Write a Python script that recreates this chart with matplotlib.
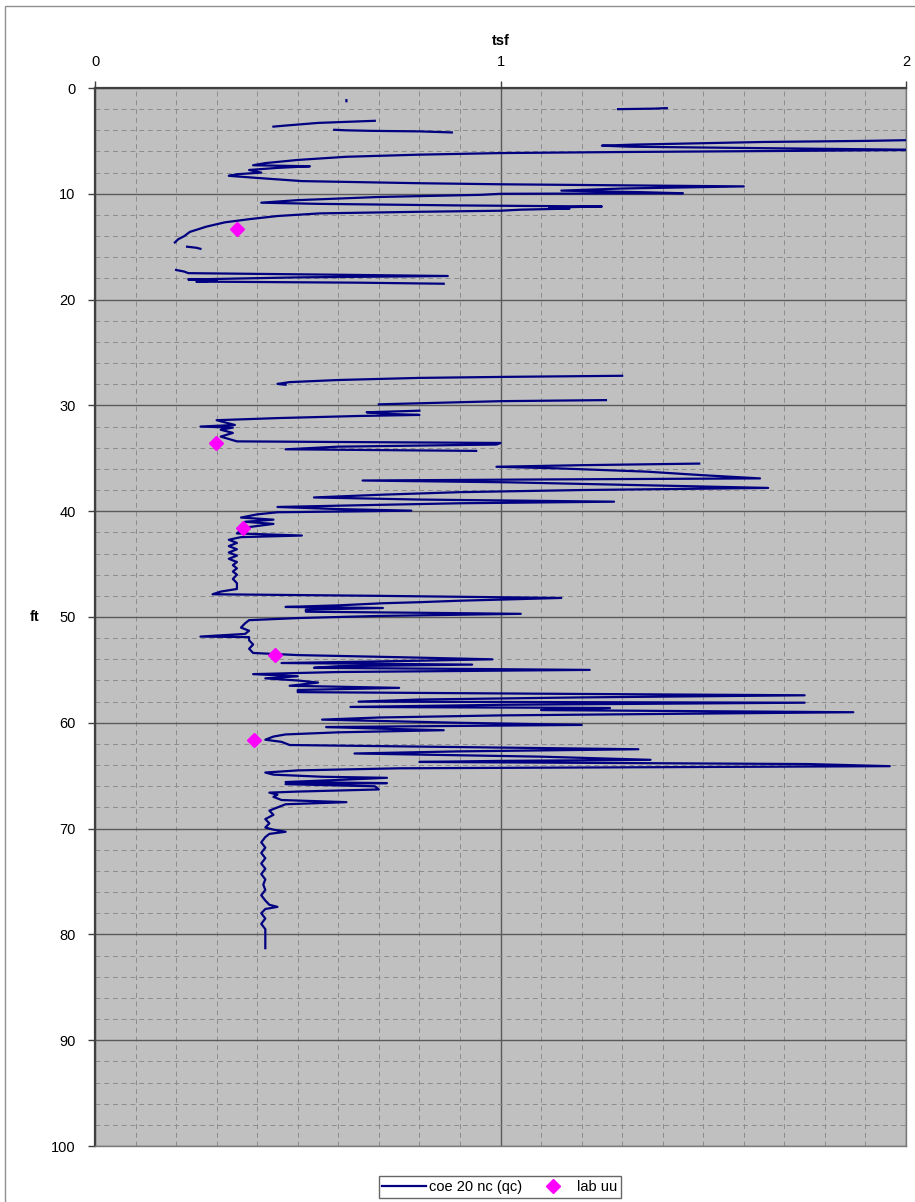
import numpy as np
import matplotlib.pyplot as plt
from matplotlib.patches import Rectangle
from matplotlib.ticker import MultipleLocator

plt.rcParams['font.family'] = ['Liberation Sans', 'DejaVu Sans']

nan = np.nan

# cone record: depth (ft) and qc (tsf), gaps marked with nan
depth_ft = [
    1.15, 1.25, nan,
    1.9, 1.95, 2.0, nan,
    3.1, 3.2, 3.3, 3.45, 3.55, 3.65, nan,
    3.95, 4.0, 4.05, 4.1, 4.2, nan,
    4.9, 5.0, 5.1, 5.25, 5.35, 5.45, 5.55, 5.65, 5.75, 5.85, 5.95, 6.05, 6.15,
    6.3, 6.5, 6.8, 7.1, 7.3, 7.4, 7.55, 7.75, 8.0, 8.15, 8.3, 8.5, 8.8, 9.0,
    9.1, 9.2, 9.3, 9.5, 9.7, 9.85, 9.95, 10.0, 10.1, 10.3, 10.6, 10.84, 10.95,
    11.1, 11.2, 11.3, 11.4, 11.5, 11.6, 11.7, 11.85, 12.1, 12.4, 12.7, 13.1,
    13.6, 14.0, 14.3, 14.6, nan,
    15.0, 15.1, 15.2, nan,
    17.2, 17.35, 17.5, 17.65, 17.77, 17.9, 18.1, 18.2, 18.3, 18.4, 18.5, nan,
    27.2, 27.3, 27.4, 27.6, 27.8, 27.97, 28.05, nan,
    29.5, 29.6, 29.75, 29.9, nan,
    30.5, 30.65, 30.8, 30.9, 31.0, 31.2, 31.4, 31.85, 32.0, 32.1, 32.3, 32.6,
    32.95, 33.4, 33.55, 33.7, 33.9, 34.15, 34.3, nan,
    35.5, 35.65, 35.8, 35.95, 36.1, 36.26, 36.6, 36.9, 37.0, 37.1, 37.27, 37.5,
    37.8, 38.0, 38.2, 38.45, 38.7, 38.9, 39.1, 39.25, 39.4, 39.6, 39.8, 39.95,
    40.1, 40.3, 40.6, 40.8, 41.0, 41.2, 41.5, 41.8, 42.1, 42.3, 42.45, 42.7,
    43.0, 43.3, 43.6, 43.9, 44.2, 44.5, 44.8, 45.1, 45.4, 45.7, 46.0, 46.4,
    46.8, 47.35, 47.6, 47.85, 48.0, 48.2, 48.46, 48.6, 48.7, 48.9, 49.05, 49.15,
    49.3, 49.5, 49.6, 49.7, 49.9, 50.1, 50.3, 50.6, 51.0, 51.3, 51.6, 51.85,
    51.9, 52.2, 52.6, 53.0, 53.4, 53.6, 53.8, 54.0, 54.2, 54.35, 54.5, 54.65,
    54.8, 55.0, 55.2, 55.4, 55.6, 55.8, 56.0, 56.2, 56.5, 56.7, 56.9, 57.1,
    57.25, 57.4, 57.6, 57.8, 58.0, 58.1, 58.3, 58.5, 58.6, 58.8, 59.0, 59.3,
    59.5, 59.7, 60.0, 60.2, 60.4, 60.55, 60.7, 60.9, 61.1, 61.3, 61.6, 61.8,
    62.1, 62.3, 62.5, 62.7, 62.9, 63.2, 63.5, 63.6, 63.7, 63.9, 64.1, 64.3,
    64.5, 64.7, 64.9, 65.1, 65.2, 65.4, 65.6, 65.7, 65.8, 66.0, 66.3, 66.5,
    66.6, 66.8, 67.0, 67.3, 67.5, 67.7, 68.0, 68.3, 68.7, 69.1, 69.5, 69.9,
    70.1, 70.3, 70.5, 70.8, 71.3, 71.8, 72.3, 72.8, 73.3, 73.8, 74.3, 74.8,
    75.3, 75.8, 76.3, 76.8, 77.2, 77.4, 77.6, 78.0, 78.5, 79.0, 79.5, 80.0,
    80.5, 81.3,
]
qc_tsf = [
    0.62, 0.62, nan,
    1.41, 1.38, 1.29, nan,
    0.69, 0.62, 0.55, 0.50, 0.47, 0.44, nan,
    0.59, 0.62, 0.68, 0.80, 0.88, nan,
    2.05, 1.9, 1.65, 1.45, 1.33, 1.25, 1.32, 1.55, 1.8, 2.05, 1.7, 1.3, 1.0,
    0.8, 0.62, 0.5, 0.42, 0.39, 0.53, 0.45, 0.38, 0.41, 0.35, 0.33, 0.40, 0.51, 0.8,
    1.0, 1.3, 1.6, 1.3, 1.15, 1.35, 1.45, 1.0, 0.95, 0.7, 0.5, 0.41, 0.55,
    0.9, 1.25, 1.12, 1.17, 1.05, 1.0, 0.8, 0.555, 0.45, 0.38, 0.32, 0.275,
    0.234, 0.22, 0.205, 0.197, nan,
    0.227, 0.25, 0.26, nan,
    0.20, 0.22, 0.23, 0.6, 0.87, 0.5, 0.23, 0.3, 0.25, 0.65, 0.86, nan,
    1.30, 1.02, 0.8, 0.6, 0.48, 0.45, 0.47, nan,
    1.26, 1.0, 0.85, 0.70, nan,
    0.8, 0.67, 0.72, 0.8, 0.65, 0.45, 0.30, 0.345, 0.26, 0.34, 0.31, 0.34,
    0.31, 0.35, 1.0, 0.99, 0.6, 0.47, 0.94, nan,
    1.49, 1.2, 0.99, 1.14, 1.25, 1.36, 1.5, 1.64, 1.1, 0.66, 1.02, 1.3,
    1.66, 1.2, 0.9, 0.7, 0.54, 0.8, 1.28, 0.9, 0.7, 0.45, 0.6, 0.78,
    0.45, 0.40, 0.36, 0.44, 0.37, 0.44, 0.38, 0.36, 0.35, 0.51, 0.36, 0.33,
    0.35, 0.33, 0.35, 0.33, 0.35, 0.33, 0.35, 0.34, 0.35, 0.34, 0.35, 0.34,
    0.35, 0.35, 0.31, 0.29, 0.7, 1.15, 0.9, 0.8, 0.71, 0.6, 0.47, 0.71,
    0.52, 0.52, 0.8, 1.05, 0.7, 0.5, 0.38, 0.37, 0.36, 0.38, 0.37, 0.26,
    0.38, 0.38, 0.39, 0.38, 0.39, 0.5, 0.75, 0.98, 0.7, 0.46, 0.93, 0.6,
    0.54, 1.22, 0.6, 0.39, 0.5, 0.42, 0.5, 0.55, 0.48, 0.75, 0.5, 0.5,
    1.1, 1.75, 1.2, 0.8, 0.65, 1.75, 1.0, 0.63, 1.27, 1.1, 1.87, 1.0,
    0.7, 0.56, 0.9, 1.2, 0.57, 0.7, 0.86, 0.6, 0.47, 0.44, 0.42, 0.46,
    0.48, 0.9, 1.34, 0.9, 0.64, 1.1, 1.37, 1.0, 0.8, 1.76, 1.96, 0.75,
    0.5, 0.42, 0.44, 0.56, 0.72, 0.6, 0.47, 0.72, 0.47, 0.69, 0.70, 0.5,
    0.43, 0.45, 0.44, 0.46, 0.62, 0.47, 0.45, 0.43, 0.44, 0.42, 0.43, 0.42,
    0.44, 0.47, 0.43, 0.42, 0.41, 0.42, 0.41, 0.42, 0.41, 0.42, 0.41, 0.42,
    0.415, 0.42, 0.41, 0.42, 0.43, 0.45, 0.42, 0.41, 0.42, 0.41, 0.42, 0.42,
    0.42, 0.42,
]

# lab UU results
lab_depth = [13.3, 33.6, 41.6, 53.6, 61.6]
lab_tsf = [0.349, 0.298, 0.366, 0.445, 0.392]

fig = plt.figure(figsize=(9.15, 12.02), dpi=100)
ax = fig.add_axes([95 / 915, 1 - 1146 / 1202, 811 / 915, 1058 / 1202])
ax.set_facecolor('#c0c0c0')

ax.plot(qc_tsf, depth_ft, color='#000080', lw=1.6, label='coe 20 nc (qc)',
        zorder=3)
ax.plot(lab_tsf, lab_depth, ls='none', marker='D', ms=7, color='#ff00ff',
        mec='#ff00ff', label='lab uu', zorder=4)

ax.set_xlim(0, 2)
ax.set_ylim(100, 0)
ax.xaxis.set_major_locator(MultipleLocator(1))
ax.xaxis.set_minor_locator(MultipleLocator(0.1))
ax.yaxis.set_major_locator(MultipleLocator(10))
ax.yaxis.set_minor_locator(MultipleLocator(2))
ax.xaxis.tick_top()
ax.xaxis.set_label_position('top')

ax.grid(which='minor', color='#8c8c8c', ls=(0, (5, 4)), lw=0.7)
ax.grid(which='major', color='#5a5a5a', ls='-', lw=1.0)
ax.set_axisbelow(True)

ax.tick_params(which='major', direction='out', length=5, width=1,
               color='#404040', labelsize=10.5, pad=9)
ax.tick_params(which='minor', length=0)

for side in ['top', 'left']:
    ax.spines[side].set_color('#404040')
    ax.spines[side].set_linewidth(1.6)
for side in ['right', 'bottom']:
    ax.spines[side].set_color('#7a7a7a')
    ax.spines[side].set_linewidth(1.0)

ax.set_xlabel('tsf', fontsize=10.5, fontweight='bold', labelpad=7)
ax.set_ylabel('ft', fontsize=10.5, fontweight='bold', rotation=0,
              va='center', ha='center')
ax.yaxis.set_label_coords(-60 / 811, 0.5)

leg = fig.legend(loc='center', bbox_to_anchor=(500 / 915, 1 - 1187 / 1202),
                 ncol=2, fontsize=10.5, frameon=True, fancybox=False,
                 handlelength=3.0, columnspacing=0.6, borderpad=0.25,
                 handletextpad=0.2, borderaxespad=0)
leg.get_frame().set_edgecolor('#404040')
leg.get_frame().set_linewidth(1.0)

# outer chart frame
fig.patches.append(Rectangle((5 / 915, -0.01), 1.0, 1 - 6 / 1202 + 0.01,
                             transform=fig.transFigure, fill=False,
                             edgecolor='#909090', lw=1.0))

fig.savefig('out.png', dpi=100)
